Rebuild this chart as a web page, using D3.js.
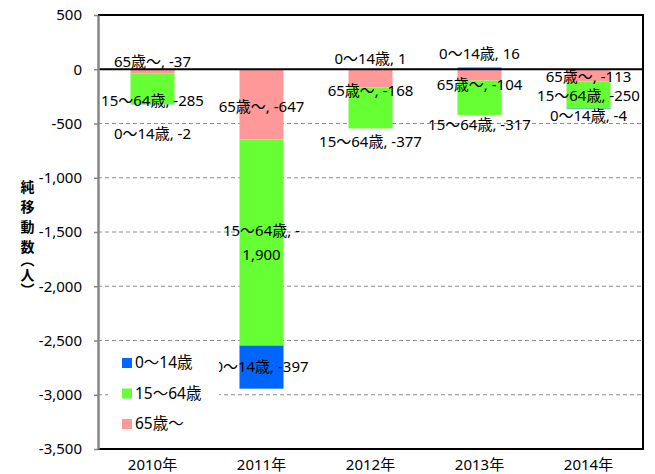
<!DOCTYPE html>
<html>
<head>
<meta charset="utf-8">
<script src="https://cdn.jsdelivr.net/npm/d3@7"></script>
<style>
  body { margin: 0; background: #fff; }
  text { font-family: "Noto Sans", "Noto Sans CJK JP", sans-serif; fill: #000; }
</style>
</head>
<body>
<div id="chart"></div>
<script>
// chart data
const years = ["2010年", "2011年", "2012年", "2013年", "2014年"];
const seriesNames = ["0〜14歳", "15〜64歳", "65歳〜"];
const age0to14 = [-2, -397, 1, 16, -4];
const age15to64 = [-285, -1900, -377, -317, -250];
const age65plus = [-37, -647, -168, -104, -113];
const yTicks = [500, 0, -500, -1000, -1500, -2000, -2500, -3000, -3500];

// hand-placed label nudges (px), like the manual ones in the original
const labelNudge = {
    "0〜14歳": [29, 0, -10, -15, 7],
    "15〜64歳": [12.5, 0, 34, 27.5, 1],
    "65歳〜": [-10, 2, 12, 10, 1]
};

const width = 655, height = 474;
const margin = ({top: 15, right: 12, bottom: 25, left: 98});
const colors = {"0〜14歳": "#0066ff", "15〜64歳": "#66ff33", "65歳〜": "#ff9999"};

// plain hyphen for negatives, as in the original
const locale = d3.formatLocale({decimal: ".", thousands: ",", grouping: [3], currency: ["", ""], minus: "-"});
const fmt = locale.format(",");

const rows = years.map((yr, i) => ({
    year: yr,
    "0〜14歳": age0to14[i],
    "15〜64歳": age15to64[i],
    "65歳〜": age65plus[i]
}));

// stacking from zero outwards: 65+ first, then 15-64, then 0-14
const stackKeys = ["65歳〜", "15〜64歳", "0〜14歳"];
const stacked = d3.stack()
    .keys(stackKeys)
    .offset(d3.stackOffsetDiverging)(rows);

const x = d3.scaleBand()
    .domain(years)
    .range([margin.left, width - margin.right])
    .paddingInner(0.596)
    .paddingOuter(0.298);

const y = d3.scaleLinear()
    .domain([-3500, 500])
    .range([height - margin.bottom, margin.top]);

const svg = d3.select("#chart").append("svg")
    .attr("width", width)
    .attr("height", height);

// gridlines
svg.append("g")
    .selectAll("line")
    .data(yTicks.filter(d => d < 0 && d > -3500))
    .enter().append("line")
        .attr("x1", margin.left)
        .attr("x2", width - margin.right)
        .attr("y1", d => y(d))
        .attr("y2", d => y(d))
        .attr("stroke", "#8c8c8c")
        .attr("stroke-width", 1)
        .attr("stroke-dasharray", "4,3");

// bars
svg.append("g")
    .selectAll("g")
    .data(stacked)
    .enter().append("g")
        .attr("fill", d => colors[d.key])
    .selectAll("rect")
    .data(d => d)
    .enter().append("rect")
        .attr("x", d => x(d.data.year))
        .attr("width", x.bandwidth())
        .attr("y", d => y(Math.max(d[0], d[1])))
        .attr("height", d => Math.abs(y(d[0]) - y(d[1])));

// frame + zero line
const frame = svg.append("g").attr("stroke", "#000").attr("stroke-width", 2).attr("fill", "none");
frame.append("line")
    .attr("x1", margin.left).attr("x2", width - margin.right)
    .attr("y1", y(0)).attr("y2", y(0));
frame.append("path")
    .attr("d", `M${margin.left},${y(500)}H${width - margin.right}V${y(-3500)}H${margin.left}`);

// y axis
const yAxis = svg.append("g")
    .attr("transform", `translate(${margin.left},0)`)
    .call(d3.axisLeft(y).tickValues(yTicks).tickFormat(fmt).tickSize(4).tickSizeOuter(0).tickPadding(12));
yAxis.select(".domain").attr("stroke", "#868686").attr("stroke-width", 2.5);
yAxis.selectAll(".tick line").attr("stroke", "#868686").attr("stroke-width", 1.5);
yAxis.selectAll("text").style("font-size", "15px").attr("fill", "#000");

// x axis
const xAxis = svg.append("g")
    .attr("transform", `translate(0,${height - margin.bottom})`)
    .call(d3.axisBottom(x).tickSize(0).tickPadding(10));
xAxis.select(".domain").remove();
xAxis.selectAll("text").style("font-size", "15px").attr("fill", "#000");

// y title, stacked vertically
const title = svg.append("text")
    .attr("x", 27)
    .attr("y", 180)
    .attr("text-anchor", "start")
    .style("writing-mode", "vertical-rl")
    .style("font-size", "14px")
    .style("font-weight", "bold");
title.append("tspan").style("letter-spacing", "6px").text("純移動数");
title.append("tspan").style("letter-spacing", "1px").style("font-feature-settings", "'vhal'").text("（人）");

// data labels
const labels = svg.append("g").style("font-size", "15px");
stacked.forEach(s => {
    s.forEach((d, i) => {
        const v = d.data[s.key];
        const cy = y((d[0] + d[1]) / 2) + labelNudge[s.key][i];
        const cx = x(d.data.year) + x.bandwidth() / 2;
        const str = `${s.key}, ${fmt(v)}`;
        const t = labels.append("text")
            .attr("x", cx)
            .attr("y", cy)
            .attr("dy", "0.35em")
            .attr("text-anchor", "middle");
        // long labels wrap after the minus sign
        if (str.length > 13) {
            const cut = str.lastIndexOf("-") + 1;
            t.append("tspan").attr("x", cx).attr("dy", "-0.45em").text(str.slice(0, cut));
            t.append("tspan").attr("x", cx).attr("dy", "1.6em").text(str.slice(cut));
        } else {
            t.text(str);
        }
    });
});

// legend
const legend = svg.append("g");
legend.append("rect")
    .attr("x", 108).attr("y", 346)
    .attr("width", 111).attr("height", 92)
    .attr("fill", "#fff");
const item = legend.selectAll("g.item")
    .data(seriesNames)
    .enter().append("g")
        .attr("class", "item")
        .attr("transform", (d, i) => `translate(122,${363 + i * 30.5})`);
item.append("rect")
    .attr("x", 0).attr("y", -5)
    .attr("width", 10).attr("height", 10)
    .attr("fill", d => colors[d]);
item.append("text")
    .attr("x", 13)
    .attr("dy", "0.35em")
    .style("font-size", "15.5px")
    .text(d => d);
</script>
</body>
</html>
